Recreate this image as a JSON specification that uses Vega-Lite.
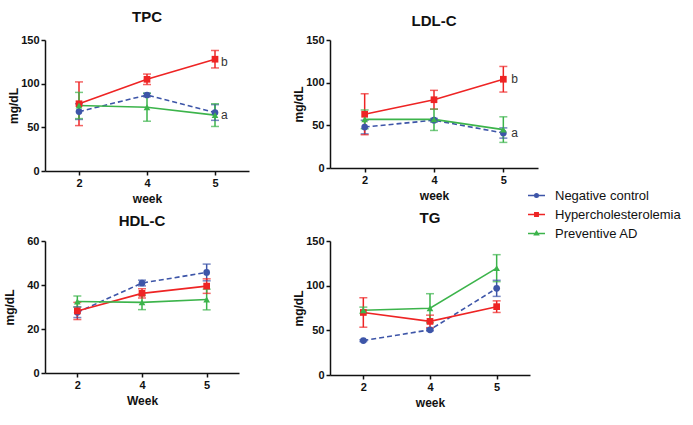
{
  "$schema": "https://vega.github.io/schema/vega-lite/v6.json",
  "background": "white",
  "padding": {"left": 3, "top": 9, "right": 5, "bottom": 5},
  "datasets": {
    "pts": [
      {"panel": "TPC", "group": "Negative control", "week": "2", "mean": 68, "lo": 59, "hi": 77},
      {"panel": "TPC", "group": "Negative control", "week": "4", "mean": 87, "lo": 85, "hi": 89},
      {"panel": "TPC", "group": "Negative control", "week": "5", "mean": 67, "lo": 58, "hi": 76},
      {"panel": "TPC", "group": "Hypercholesterolemia", "week": "2", "mean": 77, "lo": 52, "hi": 102},
      {"panel": "TPC", "group": "Hypercholesterolemia", "week": "4", "mean": 105, "lo": 99, "hi": 111},
      {"panel": "TPC", "group": "Hypercholesterolemia", "week": "5", "mean": 128, "lo": 118, "hi": 138},
      {"panel": "TPC", "group": "Preventive AD", "week": "2", "mean": 75, "lo": 60, "hi": 90},
      {"panel": "TPC", "group": "Preventive AD", "week": "4", "mean": 73, "lo": 57, "hi": 89},
      {"panel": "TPC", "group": "Preventive AD", "week": "5", "mean": 64, "lo": 51, "hi": 77},
      {"panel": "LDL", "group": "Negative control", "week": "2", "mean": 48, "lo": 40, "hi": 56},
      {"panel": "LDL", "group": "Negative control", "week": "4", "mean": 56, "lo": 54, "hi": 58},
      {"panel": "LDL", "group": "Negative control", "week": "5", "mean": 41, "lo": 35, "hi": 47},
      {"panel": "LDL", "group": "Hypercholesterolemia", "week": "2", "mean": 63, "lo": 39, "hi": 87},
      {"panel": "LDL", "group": "Hypercholesterolemia", "week": "4", "mean": 80, "lo": 69, "hi": 91},
      {"panel": "LDL", "group": "Hypercholesterolemia", "week": "5", "mean": 104, "lo": 89, "hi": 119},
      {"panel": "LDL", "group": "Preventive AD", "week": "2", "mean": 57, "lo": 46, "hi": 68},
      {"panel": "LDL", "group": "Preventive AD", "week": "4", "mean": 57, "lo": 44, "hi": 69},
      {"panel": "LDL", "group": "Preventive AD", "week": "5", "mean": 45, "lo": 30, "hi": 60},
      {"panel": "HDL", "group": "Negative control", "week": "2", "mean": 27.6, "lo": 25.2, "hi": 30},
      {"panel": "HDL", "group": "Negative control", "week": "4", "mean": 40.9, "lo": 39.6, "hi": 42.2},
      {"panel": "HDL", "group": "Negative control", "week": "5", "mean": 45.7, "lo": 41.9, "hi": 49.5},
      {"panel": "HDL", "group": "Hypercholesterolemia", "week": "2", "mean": 28.2, "lo": 24.3, "hi": 32.1},
      {"panel": "HDL", "group": "Hypercholesterolemia", "week": "4", "mean": 36.2, "lo": 34.1, "hi": 38.3},
      {"panel": "HDL", "group": "Hypercholesterolemia", "week": "5", "mean": 39.5, "lo": 36.2, "hi": 42.8},
      {"panel": "HDL", "group": "Preventive AD", "week": "2", "mean": 32.5, "lo": 30, "hi": 35},
      {"panel": "HDL", "group": "Preventive AD", "week": "4", "mean": 32.1, "lo": 28.8, "hi": 35.4},
      {"panel": "HDL", "group": "Preventive AD", "week": "5", "mean": 33.4, "lo": 28.7, "hi": 38.1},
      {"panel": "TG", "group": "Negative control", "week": "2", "mean": 38.5, "lo": 37.5, "hi": 39.5},
      {"panel": "TG", "group": "Negative control", "week": "4", "mean": 50.6, "lo": 49.5, "hi": 51.7},
      {"panel": "TG", "group": "Negative control", "week": "5", "mean": 97, "lo": 88, "hi": 106},
      {"panel": "TG", "group": "Hypercholesterolemia", "week": "2", "mean": 70, "lo": 53.5, "hi": 86.5},
      {"panel": "TG", "group": "Hypercholesterolemia", "week": "4", "mean": 60, "lo": 53, "hi": 67},
      {"panel": "TG", "group": "Hypercholesterolemia", "week": "5", "mean": 76.5, "lo": 70, "hi": 83},
      {"panel": "TG", "group": "Preventive AD", "week": "2", "mean": 72.5, "lo": 69, "hi": 76},
      {"panel": "TG", "group": "Preventive AD", "week": "4", "mean": 74.7, "lo": 58.5, "hi": 91},
      {"panel": "TG", "group": "Preventive AD", "week": "5", "mean": 119.6, "lo": 104.5, "hi": 134.7}
    ],
    "notes": [
      {"panel": "TPC", "week": "5", "value": 125, "label": "b"},
      {"panel": "TPC", "week": "5", "value": 64, "label": "a"},
      {"panel": "LDL", "week": "5", "value": 104, "label": "b"},
      {"panel": "LDL", "week": "5", "value": 41, "label": "a"}
    ]
  },
  "vconcat": [
    {
      "hconcat": [
        {
          "width": 204, "height": 131,
          "title": {"text": "TPC", "offset": 9.5},
          "data": {"name": "pts"},
          "transform": [{"filter": "datum.panel === 'TPC'"}],
          "encoding": {
            "x": {"field": "week", "type": "ordinal", "scale": {"type": "point", "padding": 0.5}, "axis": {"title": "week", "labelAngle": 0}},
            "color": {"field": "group", "type": "nominal", "scale": {"domain": ["Negative control", "Hypercholesterolemia", "Preventive AD"], "range": ["#3d55a8", "#ee2424", "#3cb44b"]}, "legend": {"title": null, "orient": "none", "legendX": 482, "legendY": 146, "symbolSize": 289, "symbolStrokeWidth": 1.5, "labelFontSize": 13, "labelFont": "Liberation Sans", "labelColor": "#111", "labelOffset": 9, "labelLimit": 0, "rowPadding": 2, "encode": {"symbols": {"update": {"shape": {"signal": "datum.value === 'Negative control' ? 'M-1,0H1M-0.21,0A0.21,0.21 0 1,0 0.21,0A0.21,0.21 0 1,0 -0.21,0Z' : datum.value === 'Hypercholesterolemia' ? 'M-1,0H1M-0.2,-0.2H0.2V0.2H-0.2Z' : 'M-1,0H1M0,-0.24L0.23,0.16H-0.23Z'"}, "stroke": {"signal": "datum.value === 'Negative control' ? '#3d55a8' : datum.value === 'Hypercholesterolemia' ? '#ee2424' : '#3cb44b'"}, "strokeWidth": {"value": 1.5}}}}}}
          },
          "layer": [
            {"mark": {"type": "rule", "strokeWidth": 1.5}, "encoding": {"y": {"field": "lo", "type": "quantitative", "title": "mg/dL", "scale": {"domain": [0, 150], "nice": false}, "axis": {"values": [0, 50, 100, 150], "titlePadding": 0}}, "y2": {"field": "hi"}}},
            {"mark": {"type": "tick", "thickness": 1.5, "size": 8}, "encoding": {"y": {"field": "lo", "type": "quantitative", "title": "mg/dL", "scale": {"domain": [0, 150], "nice": false}}}},
            {"mark": {"type": "tick", "thickness": 1.5, "size": 8}, "encoding": {"y": {"field": "hi", "type": "quantitative", "title": "mg/dL", "scale": {"domain": [0, 150], "nice": false}}}},
            {"transform": [{"filter": "datum.group === 'Negative control'"}], "mark": {"type": "line", "strokeWidth": 1.6, "strokeDash": [5, 3]}, "encoding": {"y": {"field": "mean", "type": "quantitative", "title": "mg/dL", "scale": {"domain": [0, 150], "nice": false}}}},
            {"transform": [{"filter": "datum.group !== 'Negative control'"}], "mark": {"type": "line", "strokeWidth": 1.6}, "encoding": {"y": {"field": "mean", "type": "quantitative", "title": "mg/dL", "scale": {"domain": [0, 150], "nice": false}}}},
            {"transform": [{"filter": "datum.group === 'Negative control'"}], "mark": {"type": "point", "shape": "circle", "filled": true, "opacity": 1, "size": 45}, "encoding": {"y": {"field": "mean", "type": "quantitative", "title": "mg/dL", "scale": {"domain": [0, 150], "nice": false}}}},
            {"transform": [{"filter": "datum.group === 'Hypercholesterolemia'"}], "mark": {"type": "point", "shape": "square", "filled": true, "opacity": 1, "size": 45}, "encoding": {"y": {"field": "mean", "type": "quantitative", "title": "mg/dL", "scale": {"domain": [0, 150], "nice": false}}}},
            {"transform": [{"filter": "datum.group === 'Preventive AD'"}], "mark": {"type": "point", "shape": "triangle-up", "filled": true, "opacity": 1, "size": 45}, "encoding": {"y": {"field": "mean", "type": "quantitative", "title": "mg/dL", "scale": {"domain": [0, 150], "nice": false}}}},
            {"data": {"name": "notes"}, "transform": [{"filter": "datum.panel === 'TPC'"}], "mark": {"type": "text", "align": "left", "dx": 6, "fontSize": 12, "color": "#333"}, "encoding": {"y": {"field": "value", "type": "quantitative", "title": "mg/dL", "scale": {"domain": [0, 150], "nice": false}}, "text": {"field": "label"}, "color": {"value": "#333"}}}
          ]
        },
        {
          "width": 208, "height": 128,
          "title": {"text": "LDL-C", "offset": 5},
          "data": {"name": "pts"},
          "transform": [{"filter": "datum.panel === 'LDL'"}],
          "encoding": {
            "x": {"field": "week", "type": "ordinal", "scale": {"type": "point", "padding": 0.5}, "axis": {"title": "week", "labelAngle": 0}},
            "color": {"field": "group", "type": "nominal", "scale": {"domain": ["Negative control", "Hypercholesterolemia", "Preventive AD"], "range": ["#3d55a8", "#ee2424", "#3cb44b"]}}
          },
          "layer": [
            {"mark": {"type": "rule", "strokeWidth": 1.5}, "encoding": {"y": {"field": "lo", "type": "quantitative", "title": "mg/dL", "scale": {"domain": [0, 150], "nice": false}, "axis": {"values": [0, 50, 100, 150], "titlePadding": 0}}, "y2": {"field": "hi"}}},
            {"mark": {"type": "tick", "thickness": 1.5, "size": 8}, "encoding": {"y": {"field": "lo", "type": "quantitative", "title": "mg/dL", "scale": {"domain": [0, 150], "nice": false}}}},
            {"mark": {"type": "tick", "thickness": 1.5, "size": 8}, "encoding": {"y": {"field": "hi", "type": "quantitative", "title": "mg/dL", "scale": {"domain": [0, 150], "nice": false}}}},
            {"transform": [{"filter": "datum.group === 'Negative control'"}], "mark": {"type": "line", "strokeWidth": 1.6, "strokeDash": [5, 3]}, "encoding": {"y": {"field": "mean", "type": "quantitative", "title": "mg/dL", "scale": {"domain": [0, 150], "nice": false}}}},
            {"transform": [{"filter": "datum.group !== 'Negative control'"}], "mark": {"type": "line", "strokeWidth": 1.6}, "encoding": {"y": {"field": "mean", "type": "quantitative", "title": "mg/dL", "scale": {"domain": [0, 150], "nice": false}}}},
            {"transform": [{"filter": "datum.group === 'Negative control'"}], "mark": {"type": "point", "shape": "circle", "filled": true, "opacity": 1, "size": 45}, "encoding": {"y": {"field": "mean", "type": "quantitative", "title": "mg/dL", "scale": {"domain": [0, 150], "nice": false}}}},
            {"transform": [{"filter": "datum.group === 'Hypercholesterolemia'"}], "mark": {"type": "point", "shape": "square", "filled": true, "opacity": 1, "size": 45}, "encoding": {"y": {"field": "mean", "type": "quantitative", "title": "mg/dL", "scale": {"domain": [0, 150], "nice": false}}}},
            {"transform": [{"filter": "datum.group === 'Preventive AD'"}], "mark": {"type": "point", "shape": "triangle-up", "filled": true, "opacity": 1, "size": 45}, "encoding": {"y": {"field": "mean", "type": "quantitative", "title": "mg/dL", "scale": {"domain": [0, 150], "nice": false}}}},
            {"data": {"name": "notes"}, "transform": [{"filter": "datum.panel === 'LDL'"}], "mark": {"type": "text", "align": "left", "dx": 8, "fontSize": 12, "color": "#333"}, "encoding": {"y": {"field": "value", "type": "quantitative", "title": "mg/dL", "scale": {"domain": [0, 150], "nice": false}}, "text": {"field": "label"}, "color": {"value": "#333"}}}
          ]
        }
      ],
      "spacing": 43
    },
    {
      "hconcat": [
        {
          "width": 194, "height": 132,
          "title": {"text": "HDL-C", "offset": 6},
          "data": {"name": "pts"},
          "transform": [{"filter": "datum.panel === 'HDL'"}],
          "encoding": {
            "x": {"field": "week", "type": "ordinal", "scale": {"type": "point", "padding": 0.5}, "axis": {"title": "Week", "labelAngle": 0}},
            "color": {"field": "group", "type": "nominal", "scale": {"domain": ["Negative control", "Hypercholesterolemia", "Preventive AD"], "range": ["#3d55a8", "#ee2424", "#3cb44b"]}}
          },
          "layer": [
            {"mark": {"type": "rule", "strokeWidth": 1.5}, "encoding": {"y": {"field": "lo", "type": "quantitative", "title": "mg/dL", "scale": {"domain": [0, 60], "nice": false}, "axis": {"values": [0, 20, 40, 60], "titlePadding": 10}}, "y2": {"field": "hi"}}},
            {"mark": {"type": "tick", "thickness": 1.5, "size": 8}, "encoding": {"y": {"field": "lo", "type": "quantitative", "title": "mg/dL", "scale": {"domain": [0, 60], "nice": false}}}},
            {"mark": {"type": "tick", "thickness": 1.5, "size": 8}, "encoding": {"y": {"field": "hi", "type": "quantitative", "title": "mg/dL", "scale": {"domain": [0, 60], "nice": false}}}},
            {"transform": [{"filter": "datum.group === 'Negative control'"}], "mark": {"type": "line", "strokeWidth": 1.6, "strokeDash": [5, 3]}, "encoding": {"y": {"field": "mean", "type": "quantitative", "title": "mg/dL", "scale": {"domain": [0, 60], "nice": false}}}},
            {"transform": [{"filter": "datum.group !== 'Negative control'"}], "mark": {"type": "line", "strokeWidth": 1.6}, "encoding": {"y": {"field": "mean", "type": "quantitative", "title": "mg/dL", "scale": {"domain": [0, 60], "nice": false}}}},
            {"transform": [{"filter": "datum.group === 'Negative control'"}], "mark": {"type": "point", "shape": "circle", "filled": true, "opacity": 1, "size": 45}, "encoding": {"y": {"field": "mean", "type": "quantitative", "title": "mg/dL", "scale": {"domain": [0, 60], "nice": false}}}},
            {"transform": [{"filter": "datum.group === 'Hypercholesterolemia'"}], "mark": {"type": "point", "shape": "square", "filled": true, "opacity": 1, "size": 45}, "encoding": {"y": {"field": "mean", "type": "quantitative", "title": "mg/dL", "scale": {"domain": [0, 60], "nice": false}}}},
            {"transform": [{"filter": "datum.group === 'Preventive AD'"}], "mark": {"type": "point", "shape": "triangle-up", "filled": true, "opacity": 1, "size": 45}, "encoding": {"y": {"field": "mean", "type": "quantitative", "title": "mg/dL", "scale": {"domain": [0, 60], "nice": false}}}}
          ]
        },
        {
          "width": 200, "height": 134,
          "title": {"text": "TG", "offset": 9},
          "data": {"name": "pts"},
          "transform": [{"filter": "datum.panel === 'TG'"}],
          "encoding": {
            "x": {"field": "week", "type": "ordinal", "scale": {"type": "point", "padding": 0.5}, "axis": {"title": "week", "labelAngle": 0}},
            "color": {"field": "group", "type": "nominal", "scale": {"domain": ["Negative control", "Hypercholesterolemia", "Preventive AD"], "range": ["#3d55a8", "#ee2424", "#3cb44b"]}}
          },
          "layer": [
            {"mark": {"type": "rule", "strokeWidth": 1.5}, "encoding": {"y": {"field": "lo", "type": "quantitative", "title": "mg/dL", "scale": {"domain": [0, 150], "nice": false}, "axis": {"values": [0, 50, 100, 150], "titlePadding": 0}}, "y2": {"field": "hi"}}},
            {"mark": {"type": "tick", "thickness": 1.5, "size": 8}, "encoding": {"y": {"field": "lo", "type": "quantitative", "title": "mg/dL", "scale": {"domain": [0, 150], "nice": false}}}},
            {"mark": {"type": "tick", "thickness": 1.5, "size": 8}, "encoding": {"y": {"field": "hi", "type": "quantitative", "title": "mg/dL", "scale": {"domain": [0, 150], "nice": false}}}},
            {"transform": [{"filter": "datum.group === 'Negative control'"}], "mark": {"type": "line", "strokeWidth": 1.6, "strokeDash": [5, 3]}, "encoding": {"y": {"field": "mean", "type": "quantitative", "title": "mg/dL", "scale": {"domain": [0, 150], "nice": false}}}},
            {"transform": [{"filter": "datum.group !== 'Negative control'"}], "mark": {"type": "line", "strokeWidth": 1.6}, "encoding": {"y": {"field": "mean", "type": "quantitative", "title": "mg/dL", "scale": {"domain": [0, 150], "nice": false}}}},
            {"transform": [{"filter": "datum.group === 'Negative control'"}], "mark": {"type": "point", "shape": "circle", "filled": true, "opacity": 1, "size": 45}, "encoding": {"y": {"field": "mean", "type": "quantitative", "title": "mg/dL", "scale": {"domain": [0, 150], "nice": false}}}},
            {"transform": [{"filter": "datum.group === 'Hypercholesterolemia'"}], "mark": {"type": "point", "shape": "square", "filled": true, "opacity": 1, "size": 45}, "encoding": {"y": {"field": "mean", "type": "quantitative", "title": "mg/dL", "scale": {"domain": [0, 150], "nice": false}}}},
            {"transform": [{"filter": "datum.group === 'Preventive AD'"}], "mark": {"type": "point", "shape": "triangle-up", "filled": true, "opacity": 1, "size": 45}, "encoding": {"y": {"field": "mean", "type": "quantitative", "title": "mg/dL", "scale": {"domain": [0, 150], "nice": false}}}}
          ]
        }
      ],
      "spacing": 53
    }
  ],
  "spacing": 7,
  "config": {
    "view": {"stroke": null},
    "font": "Liberation Sans",
    "axis": {"domainColor": "#111", "domainWidth": 1.5, "tickColor": "#111", "tickWidth": 1.5, "tickSize": 4, "labelFont": "Liberation Sans", "labelFontWeight": "bold", "labelFontSize": 11, "labelColor": "#111", "labelPadding": 2, "titleFont": "Liberation Sans", "titleFontWeight": "bold", "titleFontSize": 12, "titleColor": "#111", "grid": false},
    "axisX": {"titlePadding": 5},
    "title": {"fontSize": 15, "fontWeight": "bold", "font": "Liberation Sans", "color": "#111"}
  }
}
